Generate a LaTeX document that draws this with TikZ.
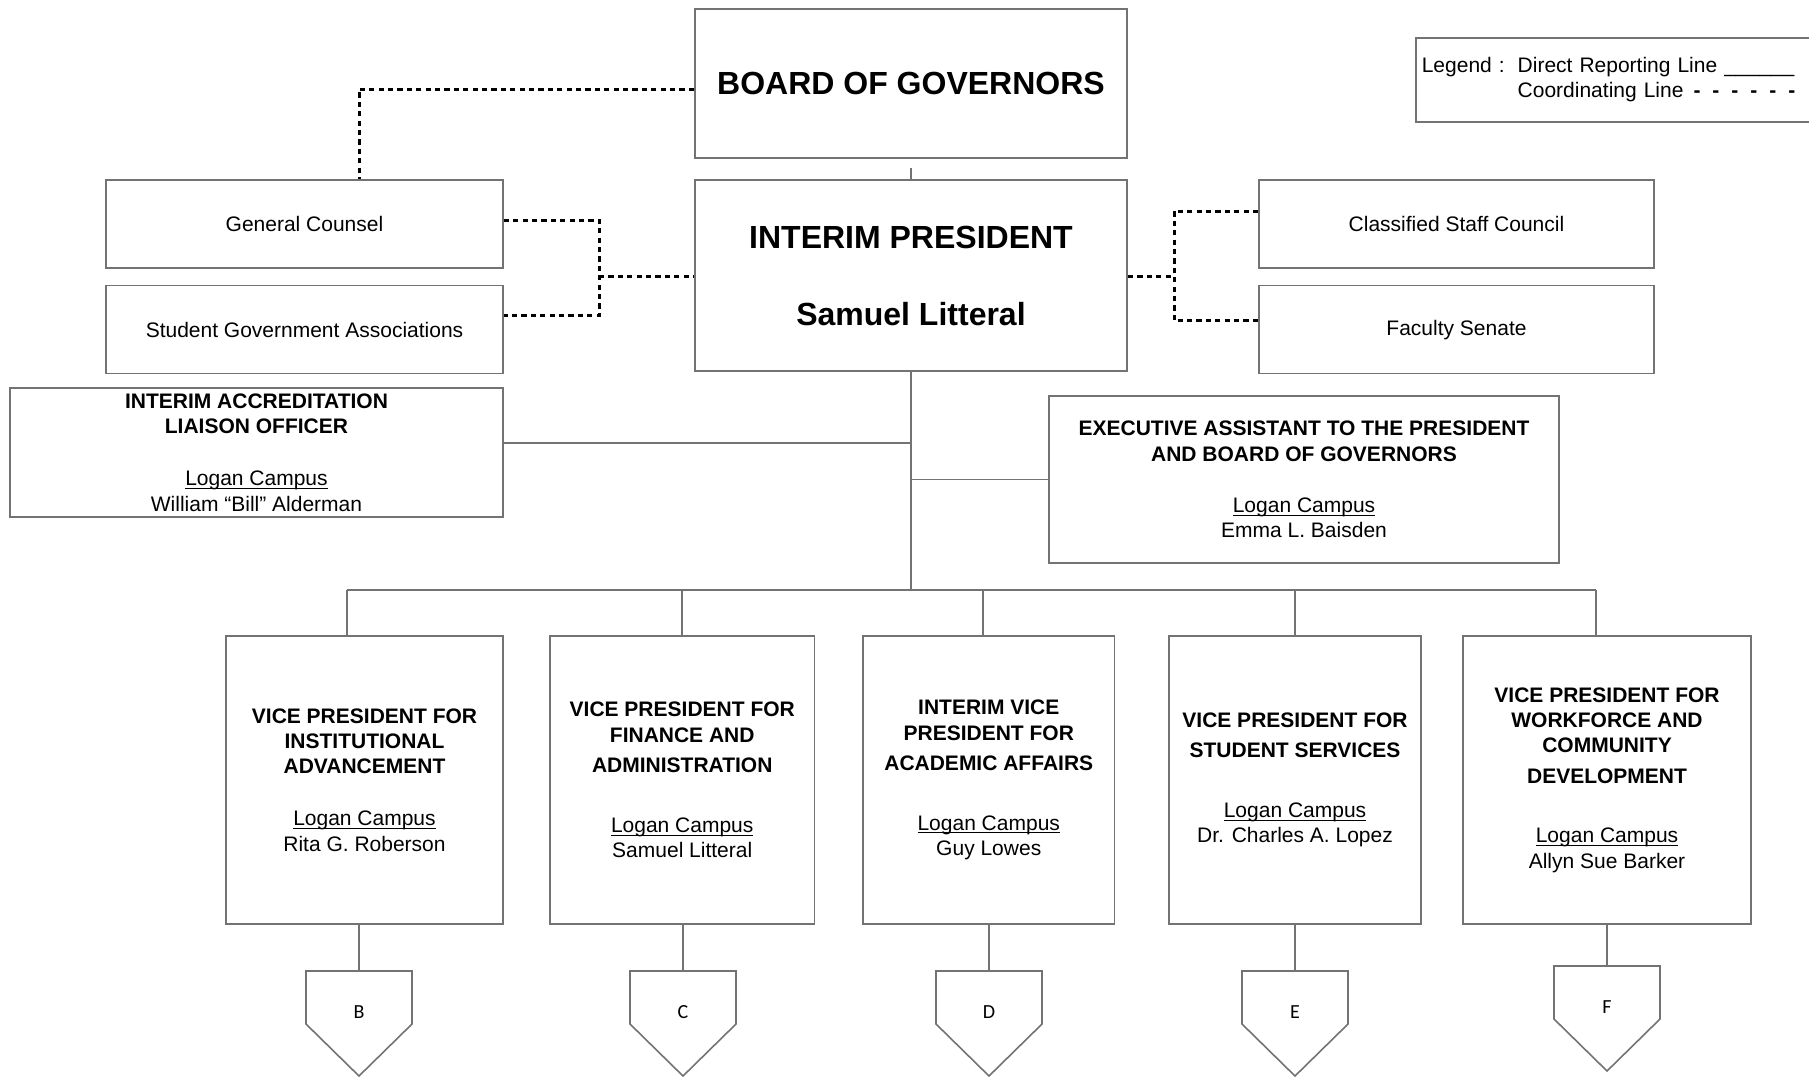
\documentclass[tikz,border=0pt]{standalone}
\usepackage{fontspec}
\setmainfont{Liberation Sans}
\newfontfamily\letterfont{Carlito}
\usetikzlibrary{calc}
\usetikzlibrary{positioning}

% underline close to the baseline
\newcommand{\campus}[1]{\underline{\smash{#1}}}

% off-page connector: name, x, top y, letter
\newcommand{\offpage}[4]{%
	\coordinate (#1) at (#2,#3);
	\draw[link] (#1) ++(-53,0) -- ++(106,0) -- ++(0,53) -- ++(-53,52) -- ++(-53,-52) -- cycle;
	\node[letter] (#1l) at ($(#1)+(0,41)$) {#4};
}

\begin{document}
\begin{tikzpicture}[x=0.5pt, y=-0.5pt, font=\fontsize{10.5}{12.7}\selectfont]
    \tikzstyle{box}=[draw=black!55, line width=0.8pt, rectangle, align=center, inner sep=0pt]
    \tikzstyle{link}=[draw=black!55, line width=0.8pt]
    \tikzstyle{coord}=[draw=black, line width=1.5pt, dash pattern=on 2.6pt off 2.1pt]
    \tikzstyle{big}=[font=\fontsize{16}{18}\selectfont\bfseries]
    \tikzstyle{vp}=[box, minimum height=144pt]
    \tikzstyle{letter}=[font=\letterfont\fontsize{10}{11}\selectfont]

    \useasboundingbox (0,0) rectangle (1809,1076);

    % top
    \node[box, big, minimum width=216.25pt, minimum height=74.5pt] (board) at (911,83.5) {BOARD OF GOVERNORS};
    \node[box, big, minimum width=216.25pt, minimum height=95.5pt] (pres) at (911,275.5) {INTERIM PRESIDENT\\[20.5pt]Samuel Litteral};

    \node[box, minimum width=198.5pt, minimum height=44pt] (gc) at (304.5,224) {General Counsel};
    \node[box, minimum width=198.5pt, minimum height=44pt, below=8pt of gc] (sga) {Student Government Associations};
    \node[box, minimum width=197.5pt, minimum height=44pt] (csc) at (1456.5,224) {Classified Staff Council};
    \node[box, minimum width=197.5pt, minimum height=44pt, below=8pt of csc] (fs) {Faculty Senate};

    \node[draw=black!55, line width=0.8pt, anchor=north west, minimum height=42pt, inner xsep=3pt, text width=194pt, align=left] (legend) at (1415,37)
        {\begin{tabular}{@{}l@{\hspace{6.5pt}}l@{}}
        Legend : & Direct Reporting Line \_\_\_\_\_\_\\
                 & Coordinating Line\hspace{5pt}\textbf{-}\hspace{6pt}\textbf{-}\hspace{6pt}\textbf{-}\hspace{6pt}\textbf{-}\hspace{6pt}\textbf{-}\hspace{6pt}\textbf{-}
        \end{tabular}};

    % staff
    \node[box, minimum width=246.5pt, minimum height=64.5pt] (acc) at (256.5,452.5)
        {\textbf{INTERIM ACCREDITATION}\\\textbf{LIAISON OFFICER}\\[13.3pt]\campus{Logan Campus}\\William “Bill” Alderman};
    \node[box, minimum width=255pt, minimum height=83.5pt] (exec) at (1304,479.5)
        {\textbf{EXECUTIVE ASSISTANT TO THE PRESIDENT}\\\textbf{AND BOARD OF GOVERNORS}\\[12.7pt]\campus{Logan Campus}\\Emma L. Baisden};

    % vice presidents
    \node[vp, minimum width=138.5pt] (vp1) at (364.5,780)
        {\textbf{VICE PRESIDENT FOR}\\\textbf{INSTITUTIONAL}\\\textbf{ADVANCEMENT}\\[13.3pt]\campus{Logan Campus}\\Rita G. Roberson};
    \node[vp, minimum width=132.25pt] (vp2) at (682.25,780)
        {\textbf{VICE PRESIDENT FOR}\\\textbf{FINANCE AND}\\[2.5pt]\textbf{ADMINISTRATION}\\[17pt]\campus{Logan Campus}\\Samuel Litteral};
    \node[vp, minimum width=125.75pt] (vp3) at (988.75,780)
        {\textbf{INTERIM VICE}\\\textbf{PRESIDENT FOR}\\[2.5pt]\textbf{ACADEMIC AFFAIRS}\\[17pt]\campus{Logan Campus}\\Guy Lowes};
    \node[vp, minimum width=126pt] (vp4) at (1295,780)
        {\textbf{VICE PRESIDENT FOR}\\[2.5pt]\textbf{STUDENT SERVICES}\\[17pt]\campus{Logan Campus}\\Dr. Charles A. Lopez};
    \node[vp, minimum width=144pt] (vp5) at (1607,780)
        {\textbf{VICE PRESIDENT FOR}\\\textbf{WORKFORCE AND}\\\textbf{COMMUNITY}\\[2.5pt]\textbf{DEVELOPMENT}\\[17pt]\campus{Logan Campus}\\Allyn Sue Barker};

    \offpage{offB}{359}{971}{B}
    \offpage{offC}{683}{971}{C}
    \offpage{offD}{989}{971}{D}
    \offpage{offE}{1295}{971}{E}
    \offpage{offF}{1607}{966}{F}

    % reporting lines
    \coordinate (accj) at (911,443);
    \coordinate (bus) at (911,590);
    \coordinate (busL) at (347,590);
    \coordinate (busR) at (1596,590);
    \draw[link, shorten <=4.5pt] (board) -- (pres);
    \draw[link] (pres.south) -- (bus);
    \draw[link] (accj) -- (accj -| acc.east);
    \draw[link] (exec.west) -- (exec.west -| pres.south);
    \draw[link] (busL) -- (busR);
    \draw[link] (busL) -- (busL |- vp1.north);
    \draw[link] (vp2.north) -- (vp2.north |- bus);
    \draw[link] ([xshift=-3pt]vp3.north) -- ([xshift=-3pt]vp3.north |- bus);
    \draw[link] (vp4.north) -- (vp4.north |- bus);
    \draw[link] (busR) -- (busR |- vp5.north);
    \draw[link] (offB) -- (offB |- vp1.south);
    \draw[link] (offC) -- (offC |- vp2.south);
    \draw[link] (offD) -- (offD |- vp3.south);
    \draw[link] (offE) -- (offE |- vp4.south);
    \draw[link] (offF) -- (offF |- vp5.south);

    % coordinating lines
    \coordinate (lj) at (599,276);
    \coordinate (rj) at (1174,276);
    \draw[coord] ([yshift=-2.75pt]board.west) -| ([xshift=27.25pt]gc.north);
    \draw[coord] ([yshift=2pt]gc.east) -| (lj) |- ([yshift=7pt]sga.east);
    \draw[coord] (lj) -- (lj -| pres.west);
    \draw[coord] (pres.east |- rj) -- (rj);
    \draw[coord] ([yshift=6.5pt]csc.west) -| (rj) |- ([yshift=4.5pt]fs.west);
\end{tikzpicture}
\end{document}
